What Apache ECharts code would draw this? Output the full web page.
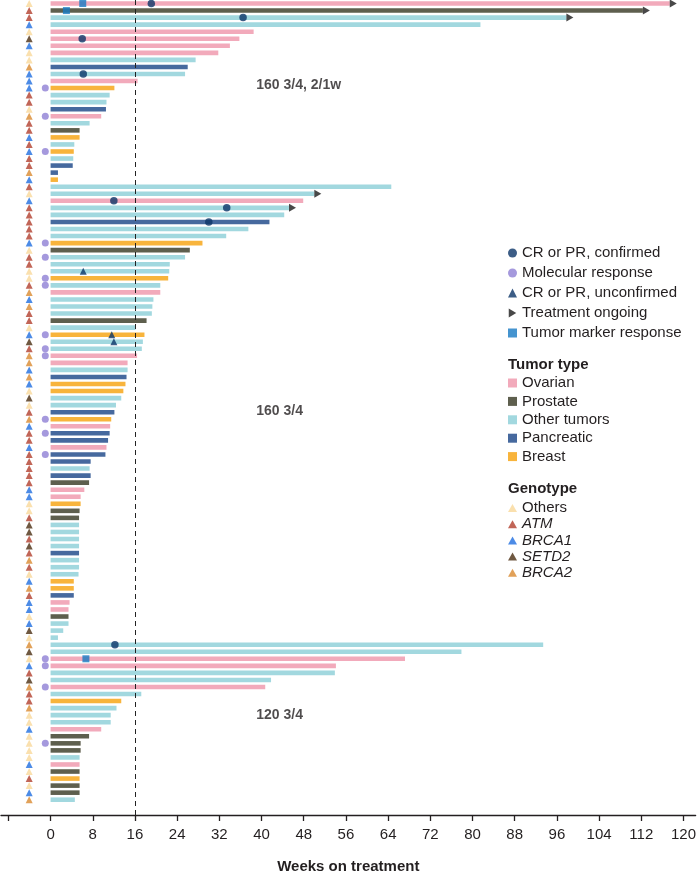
<!DOCTYPE html>
<html>
<head>
<meta charset="utf-8">
<script src="https://cdn.jsdelivr.net/npm/echarts@6/dist/echarts.min.js"></script>
<style>
  html, body { margin: 0; padding: 0; background: #fff; }
  #main { width: 699px; height: 879px; }
</style>
</head>
<body>
<div id="main"></div>
<script>
// one entry per patient row, top to bottom
const weeks = [
  117.4, 112.3, 97.8, 81.5, 38.5, 35.8, 34.0, 31.8, 27.5, 26.0,
  25.5, 16.5, 12.1, 11.2, 10.6, 10.5, 9.6, 7.4, 5.5, 5.5,
  4.5, 4.4, 4.3, 4.2, 1.4, 1.4,
  64.6, 50.0, 47.9, 45.2, 44.3, 41.5, 37.5, 33.3, 28.8, 26.4,
  25.5, 22.6, 22.5, 22.3, 20.8, 20.8, 19.5, 19.3, 19.2, 18.2,
  16.1, 17.8, 17.5, 17.3, 16.4, 14.6, 14.6, 14.4, 14.2, 13.8,
  13.4, 12.4, 12.1, 11.5, 11.3, 11.2, 10.9, 10.6, 10.4, 7.6,
  7.4, 7.6, 7.3, 6.4, 5.7, 5.7, 5.5, 5.4, 5.4, 5.4,
  5.4, 5.4, 5.4, 5.4, 5.4, 5.3, 4.4, 4.4, 4.4, 3.6,
  3.4, 3.4, 3.4, 2.4, 1.4,
  93.4, 77.9, 67.2, 54.1, 53.9, 41.8, 40.7, 17.2, 13.4, 12.5,
  11.4, 11.4, 9.6, 7.3, 5.7, 5.7, 5.5, 5.5, 5.5, 5.5,
  5.5, 5.5, 4.6
];
const tumor = [
  'Ov','Pr','Ot','Ot','Ov','Ov','Ov','Ov','Ot','Pa',
  'Ot','Ov','Br','Ot','Ot','Pa','Ov','Ot','Pr','Br',
  'Ot','Br','Ot','Pa','Pa','Br',
  'Ot','Ot','Ov','Ot','Ot','Pa','Ot','Ot','Br','Pr',
  'Ot','Ot','Ot','Br','Ot','Ov','Ot','Ot','Ot','Pr',
  'Ot','Br','Ot','Ot','Ov','Ov','Ot','Pa','Br','Br',
  'Ot','Ot','Pa','Br','Ov','Pa','Pa','Ov','Pa','Pa',
  'Ot','Pa','Pr','Ov','Ov','Br','Pr','Pr','Ot','Ot',
  'Ot','Ot','Pa','Ot','Ot','Ot','Br','Br','Pa','Ov',
  'Ov','Pr','Ot','Ot','Ot',
  'Ot','Ot','Ov','Ov','Ot','Ot','Ov','Ot','Br','Ot',
  'Ot','Ot','Ov','Pr','Pr','Pr','Ot','Ov','Pr','Br',
  'Pr','Pr','Ot'
];
const genotype = [
  'O','A','A','B1','O','S','B1','O','O','B2',
  'B1','B1','B1','A','A','O','B2','A','A','B1',
  'A','B1','A','A','B2','B1',
  'A','O','B1','A','A','A','A','A','B1','O',
  'A','A','O','O','A','B2','B1','B2','A','A',
  'O','B1','S','A','B2','B2','B1','B2','B1','O',
  'S','O','A','B2','B1','A','A','B1','A','A',
  'A','A','A','B1','B1','O','O','A','S','S',
  'A','S','A','B2','A','O','B1','B2','A','B1',
  'B1','O','B1','S','O',
  'B2','S','O','B1','A','S','B2','A','A','B2',
  'O','O','B1','O','O','O','O','B1','O','A',
  'O','B1','B2'
];

const tumorCodes = ['Ov', 'Pr', 'Ot', 'Pa', 'Br'];
const tumorNames = ['Ovarian', 'Prostate', 'Other tumors', 'Pancreatic', 'Breast'];
const tumorColors = ['#f2aabb', '#5e5f4e', '#a2d8df', '#46699e', '#f8b43c'];

const genoCodes = ['O', 'A', 'B1', 'S', 'B2'];
const genoNames = ['Others', 'ATM', 'BRCA1', 'SETD2', 'BRCA2'];
const genoColors = ['#f9d89a', '#b23f2d', '#1f6ee0', '#4b2e12', '#d9892f'];

// response markers (row number, weeks)
const confirmedRows = [1, 3, 6, 11, 29, 30, 32, 92];
const confirmedWeeks = [19.1, 36.5, 6.0, 6.2, 12.0, 33.4, 30.0, 12.2];
const unconfirmedRows = [39, 48, 49];
const unconfirmedWeeks = [6.2, 11.6, 12.0];
const markerRows = [1, 2, 94];
const markerWeeks = [6.1, 3.0, 6.7];
const molecularRows = [13, 17, 22, 35, 37, 40, 41, 48, 50, 51, 60, 62, 65, 94, 95, 98, 106];
const ongoingRows = [1, 2, 3, 28, 30];

const groupLabels = ['160 3/4, 2/1w', '160 3/4', '120 3/4'];
const groupLabelRows = [12.6, 58.9, 102];

const xTicks = [-8, 0, 8, 16, 24, 32, 40, 48, 56, 64, 72, 80, 88, 96, 104, 112, 120];
const xLabels = [0, 8, 16, 24, 32, 40, 48, 56, 64, 72, 80, 88, 96, 104, 112, 120];

const GENO_X = -4.05;
const MOL_X = -1.0;
const FONT = '"Liberation Sans", Arial, sans-serif';
const TXT = '#231f20';

let myChart = echarts.init(document.getElementById('main'));

function renderBar(params, api) {
  const row = api.value(1);
  const a = api.coord([0, row]);
  const b = api.coord([api.value(0), row]);
  const h = 4.6;
  return {
    type: 'rect',
    shape: { x: a[0], y: a[1] - h / 2, width: b[0] - a[0], height: h },
    style: { fill: api.visual('color') }
  };
}

let series = [];

// bars, one series per tumor type
tumorCodes.forEach((code, k) => {
  let data = [];
  tumor.forEach((t, i) => { if (t === code) data.push([weeks[i], i + 1]); });
  let s = {
    name: tumorNames[k],
    type: 'custom',
    renderItem: renderBar,
    encode: { x: 0, y: 1 },
    itemStyle: { color: tumorColors[k] },
    data: data,
    z: 2,
    silent: true
  };
  if (k === 0) {
    s.markLine = {
      silent: true,
      symbol: 'none',
      label: { show: false },
      lineStyle: { type: [5, 4], color: '#222', width: 1 },
      data: [{ xAxis: 16 }]
    };
  }
  series.push(s);
});

// genotype triangles
genoCodes.forEach((code, k) => {
  let data = [];
  genotype.forEach((g, i) => { if (g === code) data.push([GENO_X, i + 1]); });
  series.push({
    name: genoNames[k],
    type: 'scatter',
    symbol: 'triangle',
    symbolSize: [7, 7],
    itemStyle: { color: genoColors[k] },
    data: data,
    z: 3,
    silent: true
  });
});

series.push({
  name: 'CR or PR, confirmed',
  type: 'scatter',
  symbol: 'circle',
  symbolSize: 7.5,
  itemStyle: { color: '#0b3468' },
  data: confirmedRows.map((r, i) => [confirmedWeeks[i], r]),
  z: 5, silent: true
});
series.push({
  name: 'Molecular response',
  type: 'scatter',
  symbol: 'circle',
  symbolSize: 7,
  itemStyle: { color: '#8f7fd4' },
  data: molecularRows.map(r => [MOL_X, r]),
  z: 5, silent: true
});
series.push({
  name: 'CR or PR, unconfirmed',
  type: 'scatter',
  symbol: 'triangle',
  symbolSize: [7, 7],
  itemStyle: { color: '#0b3468' },
  data: unconfirmedRows.map((r, i) => [unconfirmedWeeks[i], r]),
  z: 5, silent: true
});
series.push({
  name: 'Treatment ongoing',
  type: 'scatter',
  symbol: 'path://M0,0L10,6L0,12Z',
  symbolSize: [7, 8],
  symbolOffset: [3.5, 0],
  itemStyle: { color: '#1a1a1a' },
  data: ongoingRows.map(r => [weeks[r - 1], r]),
  z: 5, silent: true
});
series.push({
  name: 'Tumor marker response',
  type: 'scatter',
  symbol: 'rect',
  symbolSize: 7,
  itemStyle: { color: '#1779c3' },
  data: markerRows.map((r, i) => [markerWeeks[i], r]),
  z: 5, silent: true
});

// dose group labels
series.push({
  name: 'groups',
  type: 'scatter',
  symbolSize: 0,
  silent: true,
  data: groupLabels.map((t, i) => ({ name: t, value: [39, groupLabelRows[i]] })),
  label: {
    show: true,
    position: 'right',
    distance: 0,
    formatter: '{b}',
    fontWeight: 'bold',
    fontSize: 14,
    color: TXT,
    fontFamily: FONT
  }
});

const legendText = { fontSize: 15, color: TXT, fontFamily: FONT, lineHeight: 16 };

myChart.setOption({
  animation: false,
  backgroundColor: '#fff',
  textStyle: { fontFamily: FONT },
  title: [
    { text: 'Tumor type', left: 508, top: 357, padding: 0,
      textStyle: { fontSize: 15, fontWeight: 'bold', color: TXT, fontFamily: FONT } },
    { text: 'Genotype', left: 508, top: 481, padding: 0,
      textStyle: { fontSize: 15, fontWeight: 'bold', color: TXT, fontFamily: FONT } }
  ],
  legend: [
    {
      orient: 'vertical', left: 508, top: 245, padding: 0,
      itemWidth: 9, itemHeight: 9, itemGap: 4, selectedMode: false,
      textStyle: legendText,
      data: [
        { name: 'CR or PR, confirmed', icon: 'circle' },
        { name: 'Molecular response', icon: 'circle' },
        { name: 'CR or PR, unconfirmed', icon: 'triangle' },
        { name: 'Treatment ongoing', icon: 'path://M0,0L10,6L0,12Z' },
        { name: 'Tumor marker response', icon: 'rect' }
      ]
    },
    {
      orient: 'vertical', left: 508, top: 375, padding: 0,
      itemWidth: 9, itemHeight: 9, itemGap: 2.4, selectedMode: false,
      textStyle: legendText,
      data: tumorNames.map(n => ({ name: n, icon: 'rect' }))
    },
    {
      orient: 'vertical', left: 508, top: 500, padding: 0,
      itemWidth: 9, itemHeight: 8, itemGap: 0.2, selectedMode: false,
      textStyle: legendText,
      data: genoNames.map((n, i) => ({
        name: n, icon: 'triangle',
        textStyle: { fontStyle: i === 0 ? 'normal' : 'italic' }
      }))
    }
  ],
  grid: { left: 1, right: 1, top: 0, bottom: 52, containLabel: false },
  xAxis: {
    type: 'value',
    min: -9.4,
    max: 122.3,
    name: 'Weeks on treatment',
    nameLocation: 'middle',
    nameGap: 44,
    nameTextStyle: { fontSize: 15, fontWeight: 'bold', color: TXT, fontFamily: FONT },
    axisLine: { show: true, onZero: false, lineStyle: { color: TXT, width: 1.3 } },
    axisTick: { show: true, length: 6, customValues: xTicks, lineStyle: { color: TXT, width: 1.3 } },
    axisLabel: { customValues: xLabels, fontSize: 15, color: TXT, margin: 12, fontFamily: FONT },
    splitLine: { show: false }
  },
  yAxis: {
    type: 'value',
    inverse: true,
    min: 0.5,
    max: 116.17,
    show: false
  },
  series: series
});
</script>
</body>
</html>
